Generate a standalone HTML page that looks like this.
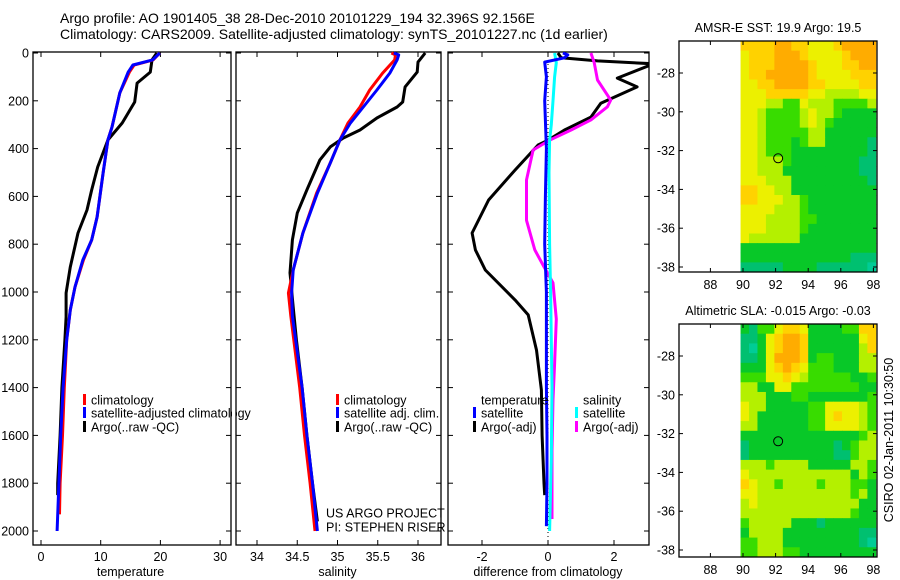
<!DOCTYPE html>
<html><head><meta charset="utf-8">
<style>
html,body{margin:0;padding:0;background:#fff;}
svg{display:block;font-family:"Liberation Sans","DejaVu Sans",sans-serif;}
text{fill:#000;}
</style></head>
<body>
<svg id="fig" width="900" height="580" viewBox="0 0 900 580" xmlns="http://www.w3.org/2000/svg">
<text x="60" y="23" font-size="14">Argo profile: AO 1901405_38 28-Dec-2010 20101229_194 32.396S 92.156E</text>
<text x="60" y="39" font-size="14">Climatology: CARS2009. Satellite-adjusted climatology: synTS_20101227.nc (1d earlier)</text>
<g id="layer"></g>
</svg>
<script>
// ---------- data ----------
const depthTicks = [0,200,400,600,800,1000,1200,1400,1600,1800,2000];
const tempTicks = [0,10,20,30];
const salTicks = [34,34.5,35,35.5,36];
const diffTicks = [-2,0,2];
const lonTicks = [88,90,92,94,96,98];
const latTicks = [-28,-30,-32,-34,-36,-38];

// temperature panel
const tClimDepth = [0,29,50,80,167,310,364,502,686,782,866,979,1075,1200,1400,1600,1800,1930];
const tClimVal   = [19.9,18.8,15.6,14.8,13.2,11.9,11.2,10.4,9.4,8.5,7.1,5.7,4.9,4.3,3.9,3.6,3.2,3.1];
const tSatDepth  = [0,29,50,80,167,310,364,502,686,782,866,979,1075,1200,1400,1600,1800,2000];
const tSatVal    = [19.9,18.7,15.4,14.6,13.2,11.9,11.2,10.4,9.4,8.5,7.0,5.7,4.9,4.3,3.7,3.3,3.0,2.7];
const tArgoDepth = [0,29,80,126,205,293,364,477,573,657,753,895,1004,1104,1200,1400,1600,1800,1850];
const tArgoVal   = [19.4,18.6,18.3,16.1,15.7,13.6,11.2,9.5,8.5,7.7,6.2,4.9,4.2,4.2,4.0,3.5,3.2,2.8,2.8];

// salinity panel
const sClimDepth = [0,8,29,84,155,226,293,364,460,586,753,908,1004,1100,1400,1600,1800,2000];
const sClimVal   = [35.67,35.72,35.71,35.56,35.40,35.28,35.13,35.03,34.91,34.74,34.57,34.45,34.39,34.42,34.53,34.59,34.66,34.72];
const sSatDepth  = [0,8,29,84,155,226,293,364,460,586,753,908,1004,1100,1400,1600,1800,2000];
const sSatVal    = [35.70,35.76,35.74,35.65,35.49,35.32,35.16,35.03,34.91,34.75,34.57,34.45,34.43,34.44,34.56,34.62,34.69,34.75];
const sArgoDepth = [0,38,80,142,205,226,272,322,356,393,448,573,669,782,920,1063,1200,1400,1600,1800,1960];
const sArgoVal   = [36.09,36.00,35.99,35.84,35.81,35.74,35.49,35.28,35.07,34.91,34.78,34.62,34.50,34.44,34.41,34.45,34.49,34.56,34.62,34.69,34.75];

// difference panel
const dTSatDepth = [0,8,20,38,100,200,400,600,800,1000,1200,1400,1600,1800,1980];
const dTSatVal   = [0.45,0.6,0.5,-0.1,-0.05,-0.1,-0.05,-0.08,-0.1,-0.05,-0.05,-0.05,-0.03,-0.03,-0.05];
const dTArgoDepth = [0,20,33,45,105,142,210,268,322,365,385,490,615,753,824,908,1033,1096,1243,1410,1600,1800,1850];
const dTArgoVal   = [0.3,0.4,1.5,3.2,2.1,2.7,1.6,1.3,0.5,0,-0.3,-1.0,-1.8,-2.3,-2.2,-1.9,-1.0,-0.6,-0.35,-0.2,-0.18,-0.12,-0.1];
const dSSatDepth = [0,40,100,200,300,365,500,800,1000,1200,1400,1700,2000];
const dSSatVal   = [0.2,0.25,0.2,0.15,0.1,0.05,0.03,0.05,0.08,0.1,0.12,0.1,0.05];
const dSArgoDepth = [0,40,113,197,225,280,322,365,406,531,700,824,887,962,1113,1300,1450,1660,1950];
const dSArgoVal   = [1.3,1.4,1.5,1.9,1.8,1.3,0.7,0.05,-0.45,-0.65,-0.65,-0.4,-0.15,0.15,0.25,0.2,0.15,0.12,0.12];

// maps (digits = colour levels), rows north->south, cols west->east (90..98E)
const sstGrid = ["6666776655567777","5666777655556777","5666777765556677","5667777765555666","5566777766555566","5556666655444455","5554433544433334","5543333454432222","5543333454322222","5543333344222222","5543332344222221","5543332222222221","5544432222222211","5544422222222211","5554442222222221","6655442222222222","6655544322222222","5555444322222222","5554444332222222","5554444322222222","5444444222222222","2222222222222222","2222222222222111","1111122221111110"];
const slaGrid = ["2133566522223366","1125677622222256","1025677622222246","1125777623322244","2225676533322244","3335565433333223","4422553333333322","4442223322222223","5442222233555543","5422222233565543","4422222233555543","2222222222222234","1222222222212344","1222222222211344","4443444422222443","5444444444444243","6544344443444332","5544444444444342","4544444444444422","4444444444444322","3444442221222222","2444422222222211","3344422222222210","3344433222222222"];
const levelColors = ["#00cc96","#00c070","#08c828","#38dc00","#b4f000","#ecf000","#ffd200","#ffac00","#f59000"];
const argoLon = [92.156];
const argoLat = [-32.396];

// ---------- drawing ----------
const NS = "http://www.w3.org/2000/svg";
const layer = document.getElementById('layer');
function el(tag, attrs, parent){
  const e = document.createElementNS(NS, tag);
  for (const k in attrs) e.setAttribute(k, attrs[k]);
  (parent||layer).appendChild(e);
  return e;
}
const yD = d => 53 + d*0.239;
const panelTop = 52, panelBot = 545;

function axesBox(x0,x1,y0,y1,name){
  const r = el('rect',{x:x0,y:y0,width:x1-x0,height:y1-y0,fill:'none',stroke:'#000','stroke-width':1.3});
  
  
}
function profile(depths, vals, xf, color, name, w){
  const pts = depths.map((d,i)=>xf(vals[i]).toFixed(1)+','+yD(d).toFixed(1)).join(' ');
  const p = el('polyline',{points:pts,fill:'none',stroke:color,'stroke-width':w||3,'stroke-linejoin':'round'});
  
  
}
function xTicks(ticks, xf, y0, y1, labels, label, name){
  ticks.forEach((t,i)=>{
    const x = xf(t);
    el('line',{x1:x,x2:x,y1:y1,y2:y1-5,stroke:'#000'});
    el('line',{x1:x,x2:x,y1:y0,y2:y0+5,stroke:'#000'});
    const tx = el('text',{x:x,y:y1+16,'font-size':12.5,'text-anchor':'middle'});
    tx.textContent = labels ? labels[i] : String(t);
    
    
  });
  const xl = el('text',{x:(xf(ticks[0])+xf(ticks[ticks.length-1]))/2,y:y1+31,'font-size':12.5,'text-anchor':'middle'});
  xl.textContent = label;
  
  
}
function yTicksDepth(x0,x1,labels){
  depthTicks.forEach(d=>{
    const y = yD(d);
    el('line',{x1:x0,x2:x0+5,y1:y,y2:y,stroke:'#000'});
    el('line',{x1:x1,x2:x1-5,y1:y,y2:y,stroke:'#000'});
    if(labels){
      const t = el('text',{x:x0-4,y:y+4.5,'font-size':12.5,'text-anchor':'end'});
      t.textContent = d;
      
      
    }
  });
}
function legendEntry(x,y,color,label,name){
  if(color){
    const r = el('rect',{x:x,y:y-6,width:3,height:11,fill:color});
    
    
  }
  const t = el('text',{x:x+8,y:y+4.5,'font-size':12.5});
  t.textContent = label;
  
  
}

// panel 1: temperature
const xT = v => 41 + v*5.97;
axesBox(33,231,panelTop,panelBot,'temperature-axes');
yTicksDepth(33,231,true);
xTicks(tempTicks,xT,panelTop,panelBot,null,'temperature','temperature');
profile(tArgoDepth,tArgoVal,xT,'#000','temperature-argo-line');
profile(tClimDepth,tClimVal,xT,'#ff0000','temperature-climatology-line');
profile(tSatDepth,tSatVal,xT,'#0000ff','temperature-satellite-line');
legendEntry(83,400,'#ff0000','climatology','legend-climatology');
legendEntry(83,413,'#0000ff','satellite-adjusted climatology','legend-satellite-adjusted');
legendEntry(83,427,'#000','Argo(..raw -QC)','legend-argo');

// panel 2: salinity
el('rect',{x:232,y:395,width:4,height:30,fill:'#fff'});
const xS = v => 257 + (v-34)*80.5;
axesBox(236,441,panelTop,panelBot,'salinity-axes');
yTicksDepth(236,441,false);
xTicks(salTicks,xS,panelTop,panelBot,['34','34.5','35','35.5','36'],'salinity','salinity');
profile(sArgoDepth,sArgoVal,xS,'#000','salinity-argo-line');
profile(sClimDepth,sClimVal,xS,'#ff0000','salinity-climatology-line');
profile(sSatDepth,sSatVal,xS,'#0000ff','salinity-satellite-line');
legendEntry(336,400,'#ff0000','climatology','legend-sal-climatology');
legendEntry(336,413,'#0000ff','satellite adj. clim.','legend-sal-satellite');
legendEntry(336,427,'#000','Argo(..raw -QC)','legend-sal-argo');
legendEntry(318,513,null,'US ARGO PROJECT','project-label');
legendEntry(318,527,null,'PI: STEPHEN RISER','pi-label');

// panel 3: differences
const xDf = v => 548 + v*33;
const cp = el('clipPath',{id:'c3'}); el('rect',{x:448,y:panelTop,width:201,height:panelBot-panelTop},cp);
axesBox(448,649,panelTop,panelBot,'difference-axes');
yTicksDepth(448,649,false);
xTicks(diffTicks,xDf,panelTop,panelBot,null,'difference from climatology','difference');
const g3 = el('g',{'clip-path':'url(#c3)'});
const zl = el('line',{x1:xDf(0),x2:xDf(0),y1:panelTop,y2:panelBot,stroke:'#000','stroke-dasharray':'1,3'},g3);


function profile3(depths, vals, color, name){
  const pts = depths.map((d,i)=>xDf(vals[i]).toFixed(1)+','+yD(d).toFixed(1)).join(' ');
  const p = el('polyline',{points:pts,fill:'none',stroke:color,'stroke-width':3,'stroke-linejoin':'round'},g3);
  
  
}
profile3(dTArgoDepth,dTArgoVal,'#000','temp-diff-argo-line');
profile3(dSArgoDepth,dSArgoVal,'#ff00ff','sal-diff-argo-line');
profile3(dSSatDepth,dSSatVal,'#00ffff','sal-diff-satellite-line');
profile3(dTSatDepth,dTSatVal,'#0000ff','temp-diff-satellite-line');
legendEntry(473,400,null,'temperature','legend-temperature-heading');
legendEntry(473,413,'#0000ff','satellite','legend-temp-satellite');
legendEntry(473,427,'#000','Argo(-adj)','legend-temp-argo');
legendEntry(575,400,null,'salinity','legend-salinity-heading');
legendEntry(575,413,'#00ffff','satellite','legend-sal-satellite-diff');
legendEntry(575,427,'#ff00ff','Argo(-adj)','legend-sal-argo-diff');

// maps
function drawMap(grid, top, bottom, lat28y, title, name){
  const x0=679,x1=877;
  const xL = lon => 743 + (lon-90)*16.3;
  const yL = lat => lat28y + (-28-lat)*19.4;
  const latTop = -28 + (lat28y-top)/19.4;
  const latBot = -28 - (bottom-lat28y)/19.4;
  const rows = grid.length, cols = grid[0].length;
  const lonW = 90-0.15, lonE = 98.15;
  const g = el('g',{});
  
  
  for(let r=0;r<rows;r++){
    for(let c=0;c<cols;c++){
      const la0 = latTop - (latTop-latBot)*r/rows, la1 = latTop - (latTop-latBot)*(r+1)/rows;
      const lo0 = lonW + (lonE-lonW)*c/cols, lo1 = lonW + (lonE-lonW)*(c+1)/cols;
      const cell = el('rect',{x:xL(lo0).toFixed(2),y:yL(la0).toFixed(2),width:(xL(lo1)-xL(lo0)+0.4).toFixed(2),height:(yL(la1)-yL(la0)+0.4).toFixed(2),fill:levelColors[+grid[r][c]]},g);
      
      
    }
  }
  axesBox(x0,x1,top,bottom,name+'-axes');
  lonTicks.forEach(lo=>{
    const x=xL(lo);
    el('line',{x1:x,x2:x,y1:bottom,y2:bottom-4,stroke:'#000'});
    el('line',{x1:x,x2:x,y1:top,y2:top+4,stroke:'#000'});
    const t=el('text',{x:x,y:bottom+17,'font-size':12.5,'text-anchor':'middle'});
    t.textContent=lo;
    
    
  });
  latTicks.forEach(la=>{
    const y=yL(la);
    el('line',{x1:x0,x2:x0+4,y1:y,y2:y,stroke:'#000'});
    el('line',{x1:x1,x2:x1-4,y1:y,y2:y,stroke:'#000'});
    const t=el('text',{x:x0-4,y:y+4.5,'font-size':12.5,'text-anchor':'end'});
    t.textContent=la;
    
    
  });
  const c = el('circle',{cx:xL(argoLon[0]),cy:yL(argoLat[0]),r:4.5,fill:'none',stroke:'#000','stroke-width':1});
  
  
  const t=el('text',{x:(x0+x1)/2,y:top-9,'font-size':12.5,'text-anchor':'middle'});
  t.textContent=title;
  
  
}
drawMap(sstGrid,41,272,73,'AMSR-E SST: 19.9 Argo: 19.5','sst-map');
drawMap(slaGrid,324,557,356,'Altimetric SLA: -0.015 Argo: -0.03','sla-map');

const stamp = el('text',{x:0,y:0,'font-size':12.5,'text-anchor':'middle',transform:'translate(893,440) rotate(-90)'});
stamp.textContent='CSIRO 02-Jan-2011 10:30:50';


</script>
</body></html>
